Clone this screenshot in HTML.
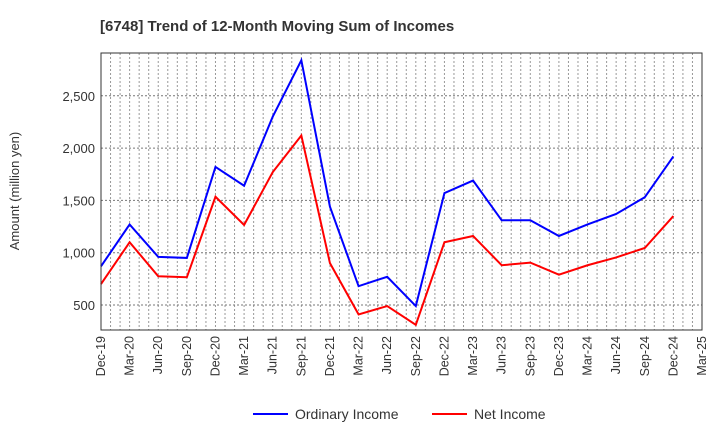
<!DOCTYPE html>
<html><head><meta charset="utf-8"><style>
body{margin:0;background:#fff;font-family:"Liberation Sans",sans-serif}
</style></head><body>
<svg id="c" width="720" height="440" xmlns="http://www.w3.org/2000/svg">
<text x="100" y="31" font-size="15" font-weight="bold" fill="#333">[6748]  Trend of 12-Month Moving Sum of Incomes</text>
<text transform="translate(19,191) rotate(-90)" text-anchor="middle" font-size="13" fill="#333">Amount (million yen)</text>
<g id="grid"></g><g id="ticks"></g><g id="series"></g>
<rect x="101" y="53" width="601" height="277" fill="none" stroke="#333" stroke-width="1"/>
<g>
<line x1="253" y1="414" x2="288" y2="414" stroke="#0000ff" stroke-width="2"/>
<text x="295" y="419" font-size="14" fill="#333">Ordinary Income</text>
<line x1="432" y1="414" x2="467" y2="414" stroke="#ff0000" stroke-width="2"/>
<text x="474" y="419" font-size="14" fill="#333">Net Income</text>
</g>
</svg>
<script>
const xLabels=["Dec-19","Mar-20","Jun-20","Sep-20","Dec-20","Mar-21","Jun-21","Sep-21","Dec-21","Mar-22","Jun-22","Sep-22","Dec-22","Mar-23","Jun-23","Sep-23","Dec-23","Mar-24","Jun-24","Sep-24","Dec-24","Mar-25"];
const yTicks=[500,1000,1500,2000,2500];
const yTickLabels=["500","1,000","1,500","2,000","2,500"];
const ordinary=[870,1270,960,950,1820,1640,2300,2840,1440,680,770,490,1570,1690,1310,1310,1160,1270,1370,1530,1920];
const net=[700,1100,775,765,1535,1265,1770,2120,900,410,490,310,1100,1160,880,905,790,880,955,1045,1350];
const ns="http://www.w3.org/2000/svg";
const X0=101,X1=702,Y0=330,Y1=53;
function xm(m){return X0+m*(X1-X0)/63;}
function xq(i){return xm(i*3);}
function y(v){return 305-(v-500)*52.3/500;}
function mk(t,a,p){const e=document.createElementNS(ns,t);for(const k in a)e.setAttribute(k,a[k]);p.appendChild(e);return e;}
const g=document.getElementById('grid'),tk=document.getElementById('ticks'),s=document.getElementById('series');
for(let m=1;m<63;m++){const l=mk('line',{x1:xm(m),x2:xm(m),y1:Y1,y2:Y0,stroke:'#999','stroke-dasharray':'2,2','stroke-width':1},g);
}
yTicks.forEach((v,i)=>{const l=mk('line',{x1:X0,x2:X1,y1:y(v),y2:y(v),stroke:'#777','stroke-dasharray':'2,2'},g);

const t=mk('text',{x:X0-6,y:y(v)+5,'text-anchor':'end','font-size':13,fill:'#333'},tk);t.textContent=yTickLabels[i];
});
xLabels.forEach((lab,i)=>{const x=xq(i);const t=mk('text',{transform:`translate(${x+4},336) rotate(-90)`,'text-anchor':'end','font-size':12.5,fill:'#333'},tk);t.textContent=lab;
});
function line(d,c,n){const p=mk('polyline',{points:d.map((v,i)=>xq(i)+','+y(v)).join(' '),fill:'none',stroke:c,'stroke-width':2},s);
}
line(ordinary,'#0000ff','ordinary-income-line');
line(net,'#ff0000','net-income-line');
</script>
</body></html>
